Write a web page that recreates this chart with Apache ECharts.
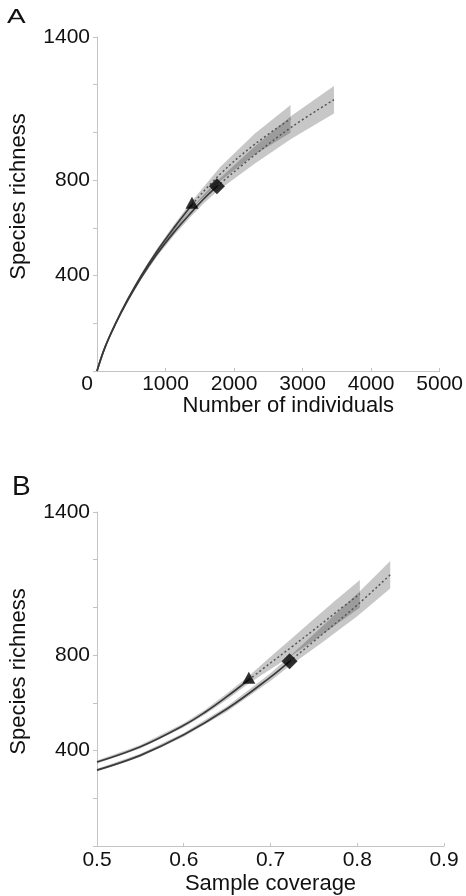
<!DOCTYPE html>
<html>
<head>
<meta charset="utf-8">
<script src="https://cdn.jsdelivr.net/npm/echarts@6/dist/echarts.min.js"></script>
<style>
  html, body { margin: 0; padding: 0; background: #fff; }
  #main { width: 466px; height: 896px; }
</style>
</head>
<body>
<div id="main"></div>
<script>
// tick labels shown on the y axes
const richLabels = [400, 800, 1400];

// --- panel A: richness vs number of individuals ---
// assemblage with the triangle (observed at ~1386 individuals)
const triN = [0, 117, 270, 447, 645, 870, 1128, 1386];
const triS = [0, 100, 200, 300, 400, 500, 602, 697];
const triHw = [0, 2, 4, 6, 8, 10, 13, 16];
const triExtN = [1386, 1800, 2300, 2824];
const triExtS = [697, 826, 950, 1057];
const triExtHw = [16, 30, 44, 58];

// assemblage with the diamond (observed at ~1750 individuals)
const diaN = [0, 117, 270, 447, 645, 870, 1128, 1386, 1560, 1750];
const diaS = [0, 99, 197, 295, 392, 488, 583, 668, 722, 774];
const diaHw = [0, 2, 4, 6, 8, 10, 13, 16, 19, 22];
const diaExtN = [1750, 2300, 2837, 3458];
const diaExtS = [774, 905, 1022, 1137];
const diaExtHw = [22, 36, 48, 58];

// --- panel B: richness vs sample coverage ---
const triC = [0.5, 0.55, 0.6, 0.625, 0.65, 0.675];
const triCS = [352, 416, 506, 562, 627, 697];
const triCHw = [6, 7, 8, 10, 13, 16];
const triExtC = [0.675, 0.7, 0.725, 0.75, 0.775, 0.803];
const triExtCS = [697, 767, 836, 906, 978, 1057];
const triExtCHw = [16, 26, 36, 45, 52, 58];

const diaC = [0.5, 0.55, 0.6, 0.65, 0.7, 0.722];
const diaCS = [318, 380, 466, 575, 708, 774];
const diaCHw = [6, 7, 8, 11, 16, 20];
const diaExtC = [0.722, 0.76, 0.8, 0.838];
const diaExtCS = [774, 888, 1010, 1137];
const diaExtCHw = [20, 34, 47, 58];

const FONT = '"Liberation Sans", Arial, sans-serif';
const pairs = (xs, ys) => xs.map((x, i) => [x, ys[i]]);

function band(ax, xs, ys, hw) {
  return {
    type: 'custom', xAxisIndex: ax, yAxisIndex: ax, silent: true, z: 1,
    data: [pairs(xs, ys)[0]],
    renderItem: (params, api) => {
      const pts = [];
      for (let i = 0; i < xs.length; i++) pts.push(api.coord([xs[i], ys[i] + hw[i]]));
      for (let i = xs.length - 1; i >= 0; i--) pts.push(api.coord([xs[i], ys[i] - hw[i]]));
      return { type: 'polygon', shape: { points: pts }, style: { fill: 'rgba(0,0,0,0.22)' } };
    }
  };
}

function curve(ax, xs, ys, dotted) {
  return {
    type: 'line', xAxisIndex: ax, yAxisIndex: ax, z: 3,
    data: pairs(xs, ys), showSymbol: false, smooth: 0.4, silent: true,
    lineStyle: dotted
      ? { color: '#555', width: 1.5, type: [2, 2.5] }
      : { color: '#3a3a3a', width: 1.7 }
  };
}

function marker(ax, x, y, symbol, size, offset) {
  return {
    type: 'scatter', xAxisIndex: ax, yAxisIndex: ax, z: 5, silent: true,
    data: [[x, y]], symbol: symbol, symbolSize: size, symbolOffset: offset,
    itemStyle: { color: '#000' }
  };
}

const axisGray = '#c4c4c4';
const labelStyle = { fontSize: 21, color: '#111', fontFamily: FONT };

function yAxis(gi) {
  return {
    gridIndex: gi, type: 'value', min: 0, max: 1400, interval: 200,
    name: 'Species richness', nameLocation: 'middle', nameGap: 67, nameMoveOverlap: false,
    nameTextStyle: { fontSize: 22, color: '#111', fontFamily: FONT, padding: [0, 0, 0, 15] },
    axisLine: { show: true, lineStyle: { color: axisGray } },
    axisTick: { show: true, length: 4, lineStyle: { color: axisGray } },
    splitLine: { show: false },
    axisLabel: Object.assign({ margin: 7,
      formatter: v => richLabels.includes(v) ? String(v) : '' }, labelStyle)
  };
}

const chart = echarts.init(document.getElementById('main'), null, { renderer: 'canvas' });
chart.setOption({
  animation: false,
  textStyle: { fontFamily: FONT },
  graphic: [
    { type: 'text', x: 7, y: 1, scaleY: 0.7, originY: 24,
      style: { text: 'A', font: '28px ' + FONT, fill: '#111' } },
    { type: 'text', x: 12, y: 473,
      style: { text: 'B', font: '28px ' + FONT, fill: '#111' } }
  ],
  grid: [
    { left: 88, top: 37, width: 355, height: 334 },
    { left: 88, top: 512, width: 356, height: 334 }
  ],
  xAxis: [
    {
      gridIndex: 0, type: 'value', min: 0, max: 5000, interval: 1000,
      name: 'Number of individuals', nameLocation: 'middle', nameGap: 24, nameMoveOverlap: false,
      nameTextStyle: { fontSize: 22, color: '#111', fontFamily: FONT, padding: [0, 0, 0, 40] },
      axisLine: { lineStyle: { color: axisGray } },
      axisTick: { inside: true, length: 3, lineStyle: { color: axisGray } },
      splitLine: { show: false },
      // the origin label sits a little left of its tick in the original
      axisLabel: Object.assign({ margin: 3, alignMinLabel: 'right',
        formatter: v => v === 0 ? '{z|0}' : String(v),
        rich: { z: { fontSize: 21, color: '#111', fontFamily: FONT, padding: [0, 4, 0, 0] } }
      }, labelStyle)
    },
    {
      gridIndex: 1, type: 'value', min: 0.5, max: 0.9, interval: 0.1,
      name: 'Sample coverage', nameLocation: 'middle', nameGap: 27, nameMoveOverlap: false,
      nameTextStyle: { fontSize: 22, color: '#111', fontFamily: FONT },
      axisLine: { lineStyle: { color: axisGray } },
      axisTick: { inside: true, length: 3, lineStyle: { color: axisGray } },
      splitLine: { show: false },
      axisLabel: Object.assign({ margin: 4, formatter: v => v.toFixed(1) }, labelStyle)
    }
  ],
  yAxis: [yAxis(0), yAxis(1)],
  series: [
    // panel A
    band(0, triN, triS, triHw),
    band(0, diaN, diaS, diaHw),
    band(0, triExtN, triExtS, triExtHw),
    band(0, diaExtN, diaExtS, diaExtHw),
    curve(0, triN, triS, false),
    curve(0, diaN, diaS, false),
    curve(0, triExtN, triExtS, true),
    curve(0, diaExtN, diaExtS, true),
    marker(0, triN[triN.length - 1], triS[triS.length - 1], 'triangle', [13, 12], [0, -2]),
    marker(0, diaN[diaN.length - 1], diaS[diaS.length - 1], 'diamond', [16, 16], [0, 0]),
    // panel B
    band(1, triC, triCS, triCHw),
    band(1, diaC, diaCS, diaCHw),
    band(1, triExtC, triExtCS, triExtCHw),
    band(1, diaExtC, diaExtCS, diaExtCHw),
    curve(1, triC, triCS, false),
    curve(1, diaC, diaCS, false),
    curve(1, triExtC, triExtCS, true),
    curve(1, diaExtC, diaExtCS, true),
    marker(1, triC[triC.length - 1], triCS[triCS.length - 1], 'triangle', [13, 12], [0, -2]),
    marker(1, diaC[diaC.length - 1], diaCS[diaCS.length - 1], 'diamond', [16, 16], [0, 0])
  ]
});
</script>
</body>
</html>
